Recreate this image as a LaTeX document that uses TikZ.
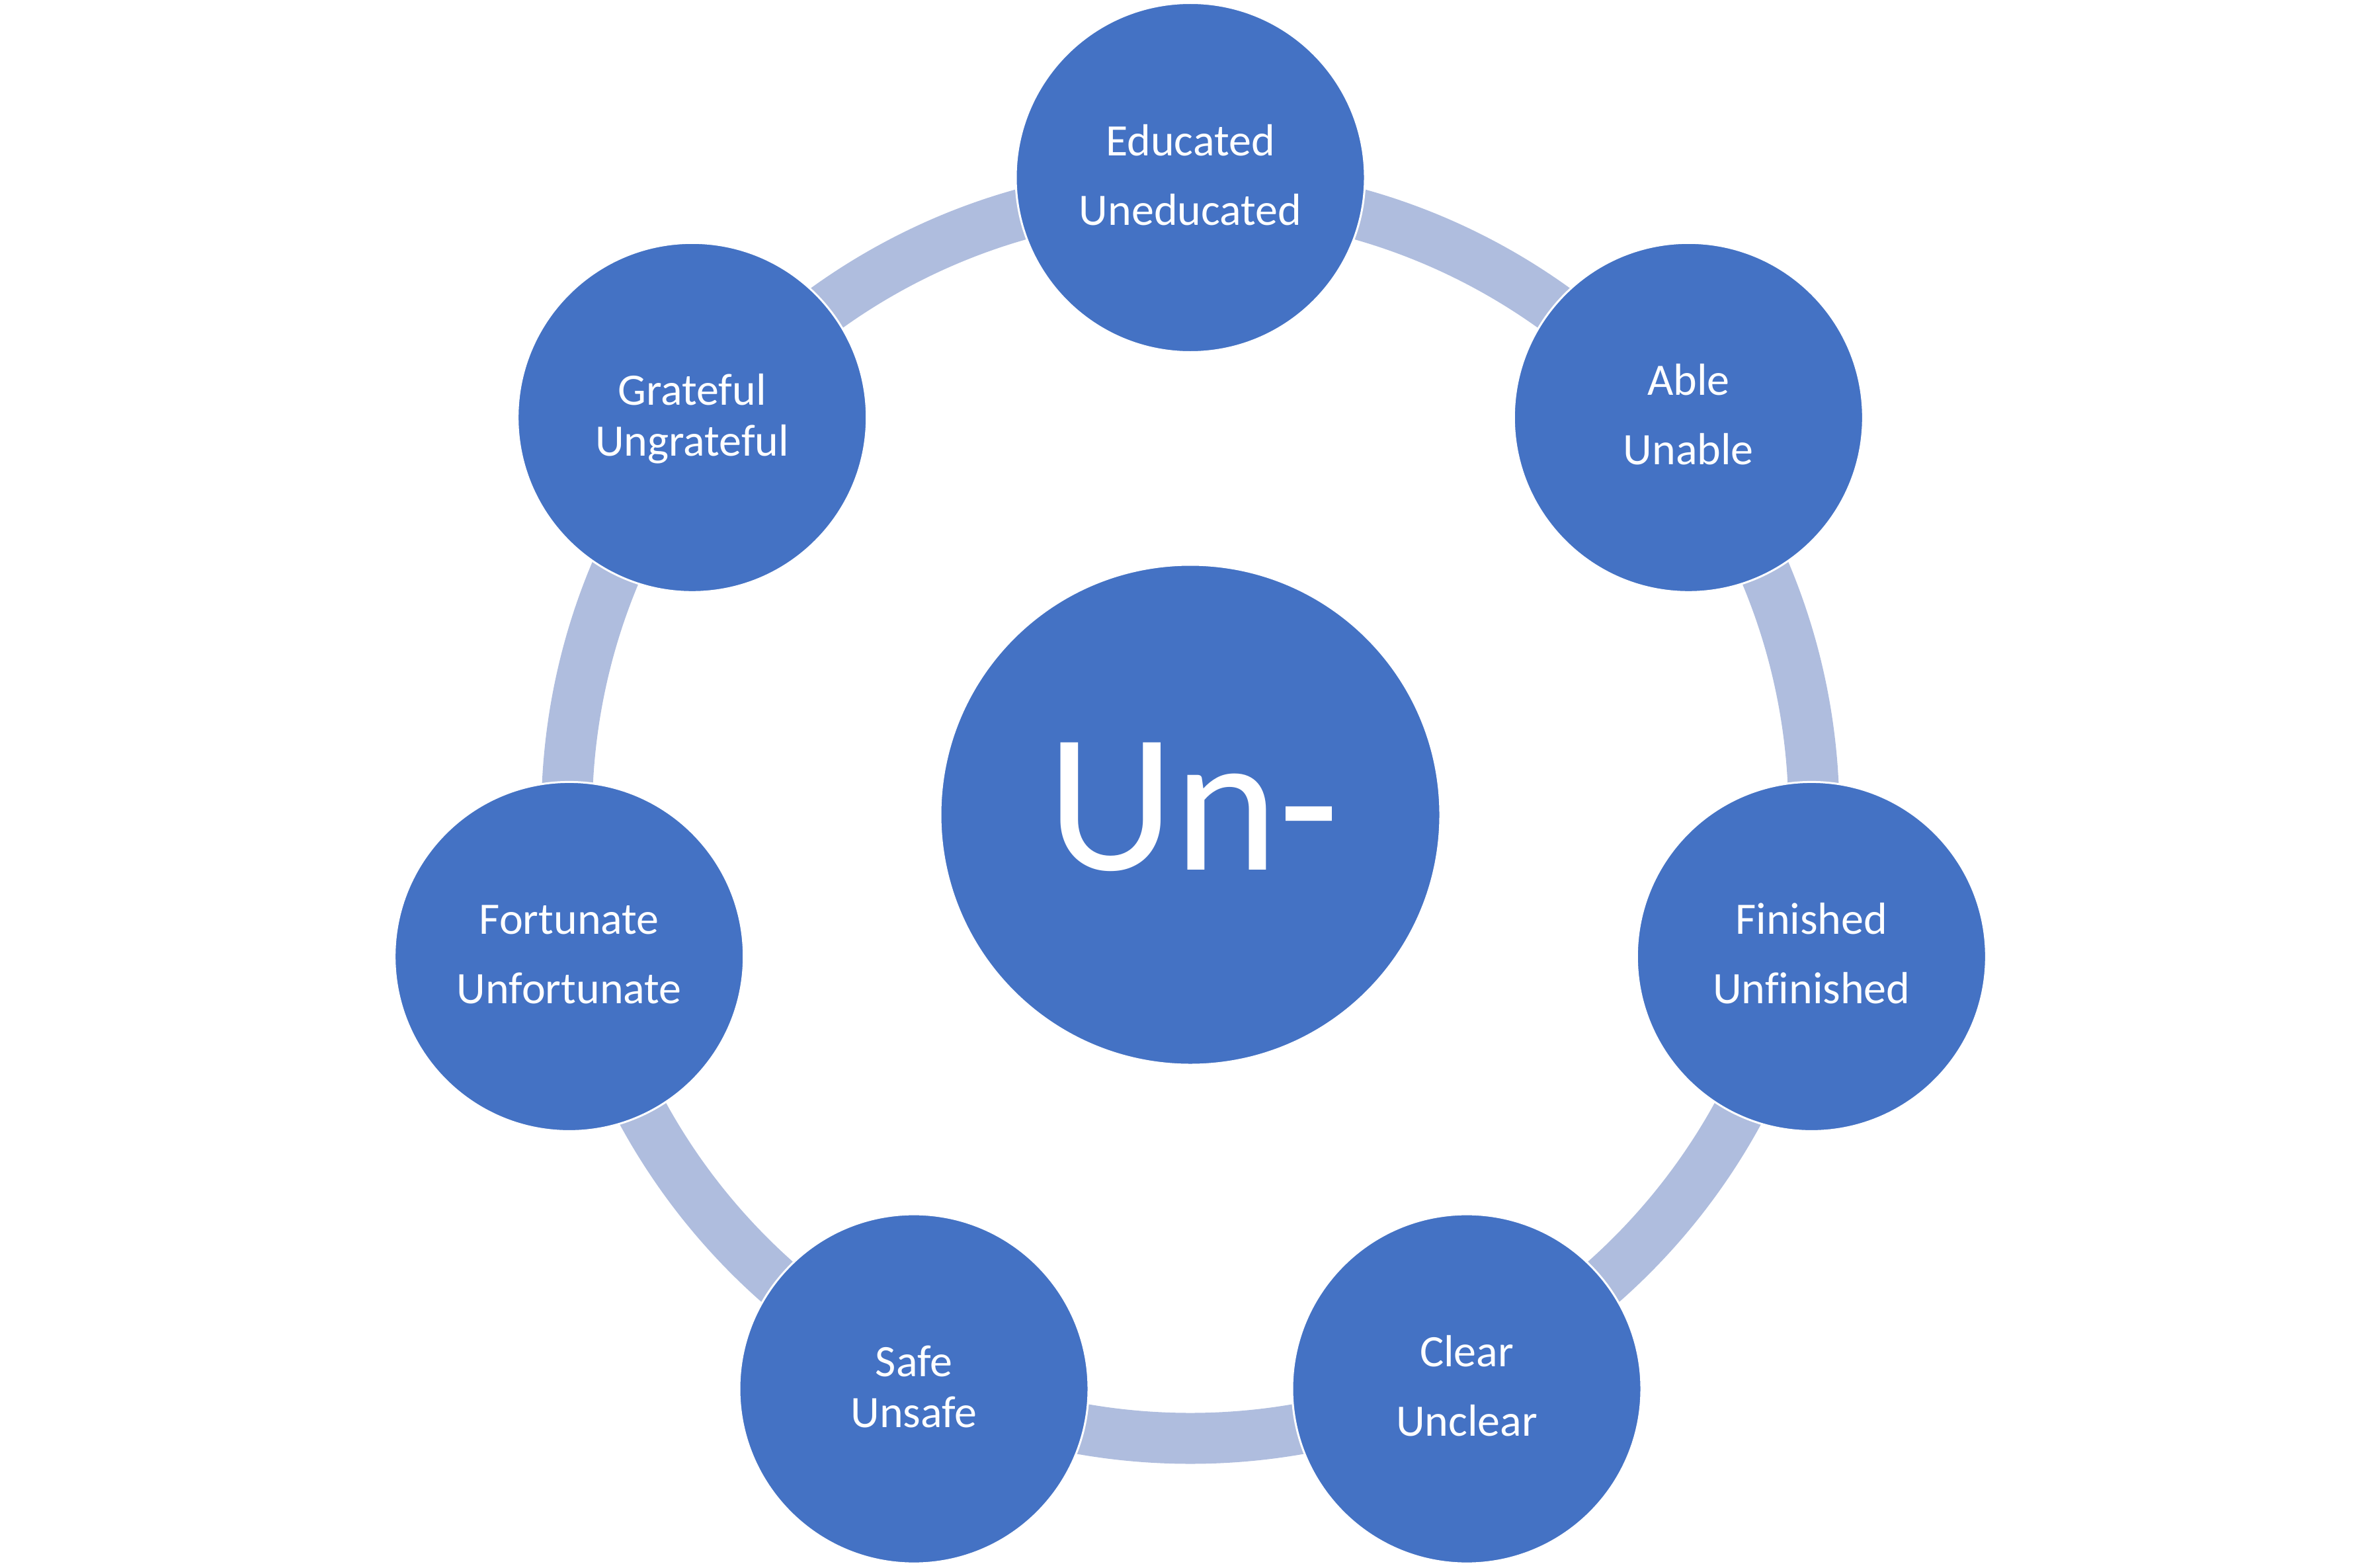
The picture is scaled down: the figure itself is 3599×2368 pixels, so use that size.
\documentclass[tikz,border=0pt]{standalone}
\usepackage{fontspec}
\setmainfont{Carlito}[Ligatures=NoCommon]
\definecolor{nodeblue}{HTML}{4472C4}
\definecolor{ringblue}{HTML}{AFBDDE}
\begin{document}
\begin{tikzpicture}[x=1pt,y=-1pt,
  bubble/.style={circle,fill=nodeblue,draw=white,line width=3pt,inner sep=0pt,minimum size=528pt},
  hub/.style={circle,fill=nodeblue,draw=white,line width=3pt,inner sep=0pt,minimum size=756pt},
  word/.style={anchor=base,text=white,inner sep=0pt,font=\fontsize{68}{80}\selectfont},
  bigword/.style={anchor=base,text=white,inner sep=0pt,font=\fontsize{300}{360}\selectfont}]
\useasboundingbox (0,0) rectangle (3599,2368);
\coordinate (c) at (1800,1232);
\draw[ringblue,line width=77pt] (c) circle (943);
\node[hub] (hub) at (c) {};
\node[bigword] (hubtext) at (1804,1315) {Un-};
% outer bubbles
\node[bubble] (edu) at (1800,268.5) {};
\node[bubble] (able) at (2553.3,631.3) {};
\node[bubble] (fin) at (2739.3,1446.4) {};
\node[bubble] (clear) at (2218.0,2100.1) {};
\node[bubble] (safe) at (1382.0,2100.1) {};
\node[bubble] (fort) at (860.7,1446.4) {};
\node[bubble] (grat) at (1046.7,631.3) {};
% labels
\node[word] (edu1) at (1800,235) {Educated};
\node[word] (edu2) at (1800,340) {Uneducated};
\node[word] (able1) at (2553.3,597.8) {Able};
\node[word] (able2) at (2553.3,702.8) {Unable};
\node[word] (fin1) at (2739.3,1412.9) {Finished};
\node[word] (fin2) at (2739.3,1517.9) {Unfinished};
\node[word] (clear1) at (2218.0,2066.6) {Clear};
\node[word] (clear2) at (2218.0,2171.6) {Unclear};
\node[word] (safe1) at (1382.0,2081.1) {Safe};
\node[word] (safe2) at (1382.0,2158.1) {Unsafe};
\node[word] (fort1) at (860.7,1412.9) {Fortunate};
\node[word] (fort2) at (860.7,1517.9) {Unfortunate};
\node[word] (grat1) at (1046.7,612.3) {Grateful};
\node[word] (grat2) at (1046.7,689.3) {Ungrateful};
\end{tikzpicture}
\end{document}
